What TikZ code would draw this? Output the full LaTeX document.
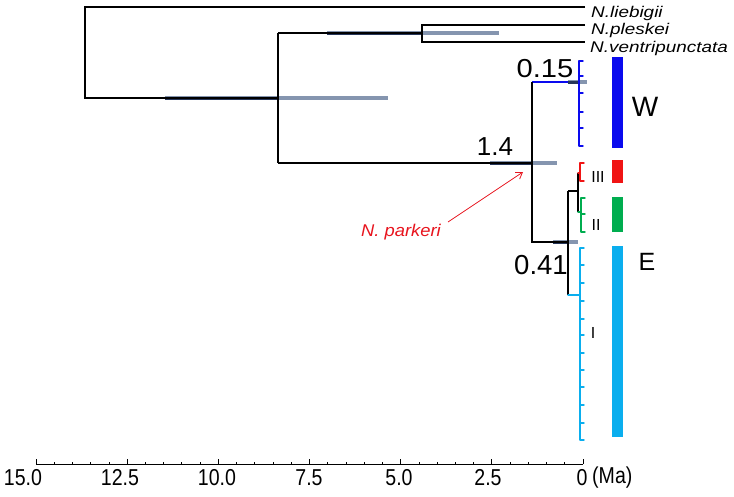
\documentclass[tikz,border=0pt]{standalone}
\usepackage{fontspec}
\setmainfont{Liberation Sans}
\usetikzlibrary{arrows.meta}
\definecolor{wblue}{HTML}{0A0AEE}
\definecolor{ered}{HTML}{F01414}
\definecolor{egreen}{HTML}{00AD4F}
\definecolor{ecyan}{HTML}{0AAEEE}
\definecolor{barlight}{HTML}{8595AF}
\definecolor{bardark}{HTML}{26365A}
\definecolor{parkred}{HTML}{E8141E}
\begin{document}
\begin{tikzpicture}[x=1pt,y=-1pt,
  branch/.style={line width=1.1pt,black},
  hpdlight/.style={line width=4.5pt,barlight},
  hpddark/.style={line width=3pt,bardark},
  bracketline/.style={line width=1.4pt,line cap=round,line join=round},
  colbar/.style={draw=none},
  taxon/.style={anchor=base west,inner sep=0pt,font=\fontsize{15.5}{18}\selectfont\itshape},
  agelabel/.style={inner sep=0pt,font=\fontsize{26}{30}\selectfont},
  cladelabel/.style={inner sep=0pt,font=\fontsize{27}{30}\selectfont},
  romanlabel/.style={inner sep=0pt,font=\fontsize{16}{18}\selectfont},
  axislabel/.style={inner sep=0pt,font=\fontsize{23}{26}\selectfont},
  axisline/.style={line width=1pt,black},
]
\useasboundingbox[fill=white] (0,0) rectangle (734,496);

% ---------- tree coordinates ----------
\coordinate (root) at (85,98);
\coordinate (roottop) at (85,7);
\coordinate (tipLieb) at (585,7);
\coordinate (n1) at (278,98);
\coordinate (n1top) at (278,33);
\coordinate (n1bot) at (278,163);
\coordinate (n2) at (422,33);
\coordinate (n2top) at (422,25);
\coordinate (n2bot) at (422,42);
\coordinate (tipPles) at (585,25);
\coordinate (tipVent) at (585,42);
\coordinate (n3) at (532,163);
\coordinate (n3top) at (532,82);
\coordinate (n3bot) at (532,242);
\coordinate (wEnd) at (580,82);
\coordinate (nE) at (568,242);
\coordinate (nEtop) at (568,191);
\coordinate (nEbot) at (568,295);
\coordinate (nRG) at (578,191);
\coordinate (nRGtop) at (578,173);
\coordinate (nRGbot) at (578,212);
\coordinate (redEnd) at (580,173);
\coordinate (greenEnd) at (581,212);
\coordinate (cyanEnd) at (580,295);

% W horizontal branch (blue)
\draw[bracketline,wblue,line cap=butt] (n3top) -- (wEnd);

% ---------- HPD bars ----------
\draw[hpdlight] (165,98) -- (388,98);
\draw[hpddark] (165,98) -- (n1);
\draw[hpdlight] (327,33) -- (499,33);
\draw[hpddark] (327,33) -- (n2);
\draw[hpdlight] (490,163) -- (557,163);
\draw[hpddark] (490,163) -- (n3);
\draw[hpdlight] (553,242) -- (578,242);
\draw[hpddark] (553,242) -- (nE);
\draw[hpdlight] (568,82) -- (587,82);
\draw[hpddark] (568,82) -- (wEnd);

% ---------- branches ----------
\draw[branch] (tipLieb) -- (roottop) -- (root) -- (n1);
\draw[branch] (n1top) -- (n1bot);
\draw[branch] (n1top) -- (n2);
\draw[branch] (tipPles) -- (n2top) -- (n2bot) -- (tipVent);
\draw[branch] (n1bot) -- (n3);
\draw[branch] (n3top) -- (n3bot) -- (nE);
\draw[branch] (nEtop) -- (nEbot);
\draw[branch] (nEtop) -- (nRG);
\draw[branch] (nRGtop) -- (nRGbot);

% ---------- collapsed clades ----------
\draw[bracketline,wblue] (583,61) -- (579,61) -- (579,146) -- (583,146);
\foreach \yy in {76,93,112,128} \draw[bracketline,wblue] (579,\yy) -- (583,\yy);
\draw[bracketline,ered] (584,163) -- (580,163) -- (580,181) -- (584,181);
\draw[bracketline,ered] (nRGtop) -- (redEnd);
\draw[bracketline,egreen] (585,198) -- (581,198) -- (581,232) -- (585,232);
\draw[bracketline,egreen] (581,214) -- (585,214);
\draw[bracketline,egreen] (nRGbot) -- (greenEnd);
\draw[bracketline,ecyan] (584,248) -- (580,248) -- (580,440) -- (584,440);
\foreach \yy in {265,283,301,319,335,353,370,387,405,423} \draw[bracketline,ecyan] (580,\yy) -- (584,\yy);
\draw[bracketline,ecyan] (nEbot) -- (cyanEnd);

% ---------- clade bars ----------
\fill[colbar,wblue] (612,57) rectangle (623,148);
\fill[colbar,ered] (612,160) rectangle (623,183);
\fill[colbar,egreen] (612,197) rectangle (623,232);
\fill[colbar,ecyan] (612,246) rectangle (623,437);

% ---------- labels ----------
\node[taxon] (lieb) at (591,17) {\scalebox{1.22}[1]{N.liebigii}};
\node[taxon] (ples) at (591,34) {\scalebox{1.22}[1]{N.pleskei}};
\node[taxon] (vent) at (590,52) {\scalebox{1.22}[1]{N.ventripunctata}};

\node[agelabel] (a015) at (545,69) {\scalebox{1.12}[1]{0.15}};
\node[agelabel] (a14) at (495,147) {1.4};
\node[agelabel,font=\fontsize{27.5}{30}\selectfont] (a041) at (541,265) {0.41};

\node[cladelabel,font=\fontsize{28}{30}\selectfont] (labW) at (645,107) {W};
\node[cladelabel,font=\fontsize{25}{30}\selectfont] (labE) at (647,262) {E};
\node[romanlabel] (labIII) at (598,177) {III};
\node[romanlabel] (labII) at (596,225) {II};
\node[romanlabel] (labI) at (593,333) {I};

\node[inner sep=0pt,text=parkred,font=\fontsize{17}{20}\selectfont\itshape] (park) at (401,232) {\scalebox{1.08}[1]{N. parkeri}};
\coordinate (parkStart) at (448,222);
\coordinate (parkEnd) at (523,172);
\draw[parkred,line width=0.8pt,-{Straight Barb[length=6pt,width=8pt]}] (parkStart) -- (parkEnd);

% ---------- time axis ----------
\coordinate (ax15) at (36,464);
\coordinate (ax0) at (583,464);
\draw[axisline] (ax15) -- (ax0);
\foreach \i in {0,...,30}{
  \pgfmathsetmacro{\xx}{583-18.2333*\i}
  \pgfmathtruncatemacro{\mm}{mod(\i,5)}
  \ifnum\mm=0
    \draw[axisline] (\xx,464) -- (\xx,459);
  \else
    \draw[axisline,line width=0.8pt] (\xx,464) -- (\xx,461.5);
  \fi
}
\node[axislabel] (t150) at (23,478) {\scalebox{0.85}[1]{15.0}};
\node[axislabel] (t125) at (120,478) {\scalebox{0.85}[1]{12.5}};
\node[axislabel] (t100) at (217,478) {\scalebox{0.85}[1]{10.0}};
\node[axislabel] (t75) at (309,478) {\scalebox{0.85}[1]{7.5}};
\node[axislabel] (t50) at (399,478) {\scalebox{0.85}[1]{5.0}};
\node[axislabel] (t25) at (488,478) {\scalebox{0.85}[1]{2.5}};
\node[axislabel] (t0) at (582,478) {\scalebox{0.85}[1]{0}};
\node[axislabel,anchor=west] (tma) at (592,478) {\scalebox{0.85}[1]{(Ma)}};
\end{tikzpicture}
\end{document}
